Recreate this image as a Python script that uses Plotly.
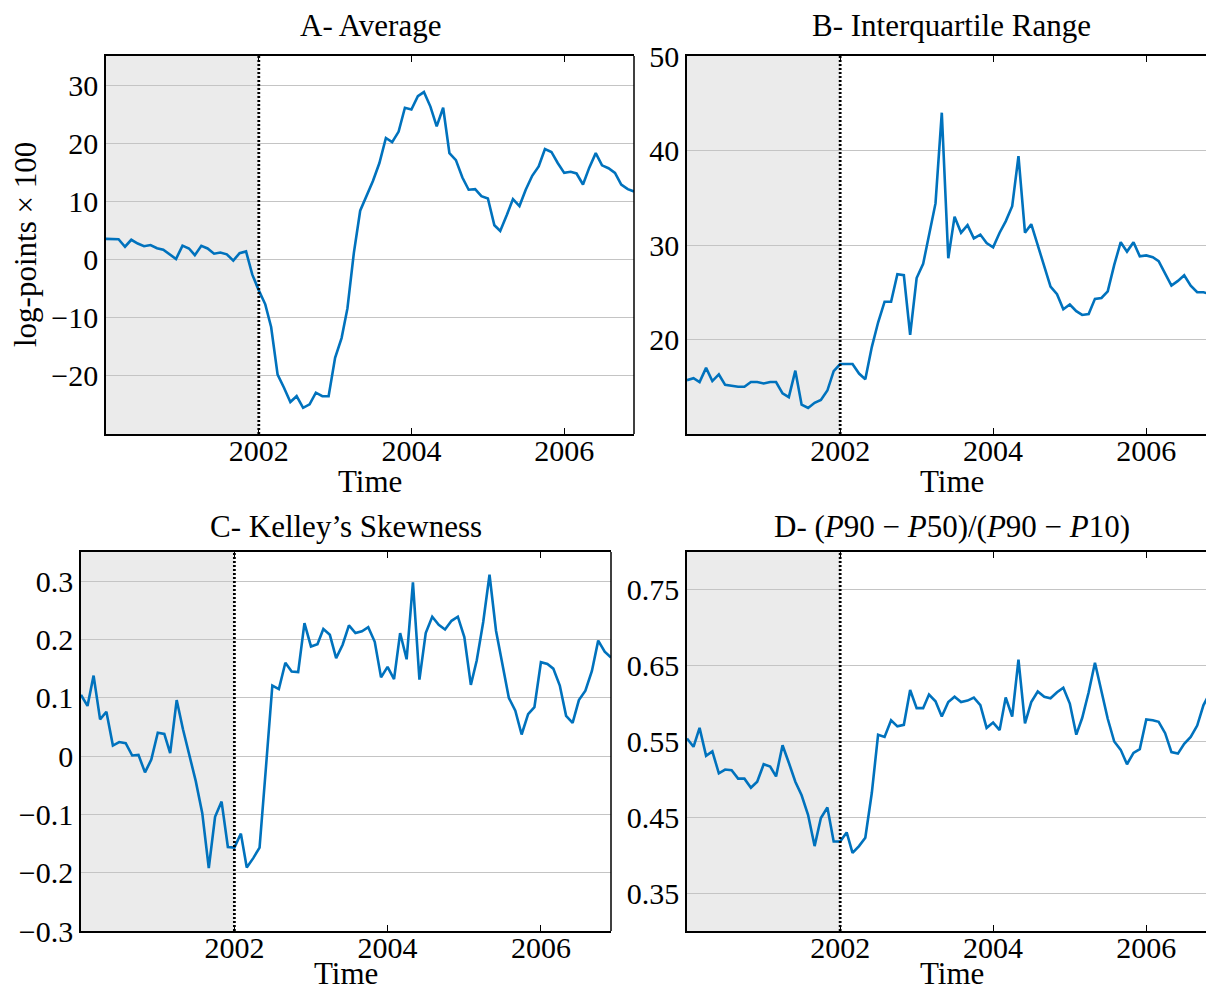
import pandas as pd
import plotly.graph_objects as go

W, H = 1206, 993

# Monthly observations, Jan 2000 - Dec 2006
months = pd.date_range("2000-01-01", periods=84, freq="MS")

# A- Average (log-points x 100)
average = [
    3.55, 3.5, 3.5, 2.2, 3.4, 2.75, 2.3, 2.5, 1.95, 1.7,
    0.86, 0.1, 2.4, 1.9, 0.75, 2.35, 1.9, 1.0, 1.2, 0.9,
    -0.2, 1.1, 1.4, -2.6, -5.3, -7.7, -11.6, -19.8, -22.0, -24.5,
    -23.5, -25.5, -24.9, -22.9, -23.5, -23.5, -16.9, -13.5, -8.4, 1.2,
    8.4, 10.9, 13.5, 16.6, 20.9, 20.2, 22.0, 26.1, 25.8, 28.1,
    28.8, 26.3, 22.9, 26.1, 18.3, 17.1, 14.1, 12.0, 12.1, 10.9,
    10.5, 5.9, 4.9, 7.6, 10.4, 9.2, 12.0, 14.4, 16.0, 19.0,
    18.5, 16.6, 14.9, 15.1, 14.8, 12.9, 15.8, 18.3, 16.2, 15.7,
    14.9, 12.9, 12.1, 11.7,
]

# B- Interquartile range
iqr = [
    15.7, 15.9, 15.5, 17.0, 15.6, 16.3, 15.2, 15.1, 15.0, 15.0,
    15.5, 15.5, 15.35, 15.5, 15.5, 14.3, 13.9, 16.7, 13.1, 12.75,
    13.3, 13.6, 14.6, 16.65, 17.4, 17.4, 17.4, 16.4, 15.8, 19.2,
    21.8, 24.0, 24.0, 26.9, 26.8, 20.5, 26.5, 28.0, 31.1, 34.4,
    44.0, 28.6, 33.0, 31.3, 32.1, 30.7, 31.1, 30.2, 29.75, 31.3,
    32.5, 34.1, 39.4, 31.3, 32.2, 29.9, 27.7, 25.6, 24.8, 23.2,
    23.7, 23.0, 22.6, 22.7, 24.3, 24.4, 25.1, 27.9, 30.3, 29.3,
    30.3, 28.8, 28.9, 28.7, 28.3, 27.0, 25.7, 26.2, 26.8, 25.7,
    25.0, 25.0, 24.8, 24.6,
]

# C- Kelley's skewness
kelley = [
    0.105, 0.086, 0.138, 0.063, 0.076, 0.018, 0.024, 0.022, 0.001, 0.002,
    -0.028, -0.006, 0.040, 0.038, 0.005, 0.096, 0.046, 0.0, -0.043, -0.098,
    -0.192, -0.104, -0.078, -0.156, -0.157, -0.133, -0.191, -0.175, -0.157, -0.017,
    0.121, 0.115, 0.160, 0.145, 0.144, 0.228, 0.188, 0.192, 0.218, 0.208,
    0.168, 0.191, 0.224, 0.211, 0.214, 0.221, 0.196, 0.135, 0.153, 0.132,
    0.211, 0.166, 0.298, 0.131, 0.211, 0.239, 0.225, 0.217, 0.232, 0.239,
    0.204, 0.122, 0.164, 0.230, 0.311, 0.215, 0.161, 0.100, 0.078, 0.037,
    0.072, 0.084, 0.161, 0.158, 0.150, 0.121, 0.069, 0.057, 0.096, 0.112,
    0.146, 0.198, 0.179, 0.169,
]

# D- (P90 - P50) / (P90 - P10)
upper_share = [
    0.554, 0.543, 0.568, 0.531, 0.537, 0.508, 0.513, 0.512, 0.501, 0.501,
    0.489, 0.497, 0.520, 0.517, 0.504, 0.545, 0.522, 0.497, 0.479, 0.453,
    0.412, 0.449, 0.463, 0.418, 0.418, 0.430, 0.403, 0.412, 0.423, 0.482,
    0.559, 0.556, 0.578, 0.570, 0.572, 0.618, 0.594, 0.594, 0.612, 0.603,
    0.583, 0.602, 0.609, 0.602, 0.604, 0.608, 0.598, 0.568, 0.575, 0.565,
    0.608, 0.583, 0.658, 0.574, 0.602, 0.616, 0.609, 0.607, 0.615, 0.621,
    0.600, 0.559, 0.581, 0.615, 0.654, 0.617, 0.580, 0.550, 0.539, 0.520,
    0.535, 0.540, 0.579, 0.578, 0.576, 0.561, 0.536, 0.534, 0.547, 0.556,
    0.571, 0.598, 0.615, 0.630,
]

year_ticks = ["2002-01-01", "2004-01-01", "2006-01-01"]
year_labels = ["2002", "2004", "2006"]

FONT = "Liberation Serif"
BLUE = "#0072BD"
TICK_SIZE = 30
TITLE_SIZE = 31

panels = [
    dict(title="A- Average", data=average, box=(106, 634, 56, 434),
         yrange=[-30, 35], yticks=[-20, -10, 0, 10, 20, 30],
         ylabels=["\u221220", "\u221210", "0", "10", "20", "30"],
         xend="2006-12-01", full_right=634, closed=True, title_y=26),
    dict(title="B- Interquartile Range", data=iqr, box=(687, 1206, 56, 434),
         yrange=[10, 50], yticks=[20, 30, 40, 50],
         ylabels=["20", "30", "40", "50"],
         xend="2006-10-13", full_right=1216, closed=False, title_y=26),
    dict(title="C- Kelley\u2019s Skewness", data=kelley, box=(81, 611, 552, 931),
         yrange=[-0.3, 0.35], yticks=[-0.3, -0.2, -0.1, 0, 0.1, 0.2, 0.3],
         ylabels=["\u22120.3", "\u22120.2", "\u22120.1", "0", "0.1", "0.2", "0.3"],
         xend="2006-12-01", full_right=611, closed=True, title_y=526),
    dict(title="D- (<i>P</i>90 \u2212 <i>P</i>50)/(<i>P</i>90 \u2212 <i>P</i>10)",
         data=upper_share, box=(687, 1206, 552, 931),
         yrange=[0.3, 0.8], yticks=[0.35, 0.45, 0.55, 0.65, 0.75],
         ylabels=["0.35", "0.45", "0.55", "0.65", "0.75"],
         xend="2006-10-13", full_right=1216, closed=False, title_y=526),
]

fig = go.Figure()
layout = {}
shapes = []
annotations = []

for k, p in enumerate(panels, start=1):
    left, right, top, bottom = p["box"]
    xs = "" if k == 1 else str(k)
    xname, yname = f"x{xs}", f"y{xs}"

    fig.add_trace(go.Scatter(
        x=months, y=p["data"], mode="lines",
        line=dict(color=BLUE, width=2.6),
        xaxis=xname, yaxis=yname, showlegend=False,
    ))

    layout[f"xaxis{xs}"] = dict(
        domain=[left / W, right / W], range=["2000-01-01", p["xend"]],
        type="date", anchor=yname, automargin=False,
        tickmode="array", tickvals=year_ticks, ticktext=year_labels,
        ticks="inside", ticklen=6, tickwidth=1, tickcolor="black",
        ticklabelstandoff=-11,
        showline=True, linecolor="black", linewidth=1.5, mirror="ticks",
        showgrid=False, zeroline=False,
        tickfont=dict(family=FONT, size=TICK_SIZE, color="black"),
    )
    layout[f"yaxis{xs}"] = dict(
        domain=[1 - bottom / H, 1 - top / H], range=p["yrange"], anchor=xname,
        automargin=False,
        tickmode="array", tickvals=p["yticks"], ticktext=p["ylabels"],
        ticks="", showline=True, linecolor="black", linewidth=1.5, mirror=False,
        showgrid=True, gridcolor="#c4c4c4", gridwidth=1, zeroline=False,
        tickfont=dict(family=FONT, size=TICK_SIZE, color="black"),
    )

    # shaded pre-2002 period
    shapes.append(dict(
        type="rect", xref=xname, yref=f"{yname} domain",
        x0="2000-01-01", x1="2002-01-01", y0=0, y1=1,
        fillcolor="#ebebeb", line=dict(width=0), layer="below",
    ))
    # dotted marker at 2002
    shapes.append(dict(
        type="line", xref=xname, yref=f"{yname} domain",
        x0="2002-01-01", x1="2002-01-01", y0=0, y1=1,
        line=dict(color="black", width=2.8, dash="2px,2px"), layer="above",
    ))
    # right-hand border of the frame
    if p["closed"]:
        shapes.append(dict(
            type="line", xref=f"{xname} domain", yref=f"{yname} domain",
            x0=1, x1=1, y0=0, y1=1,
            line=dict(color="black", width=1.5), layer="above",
        ))

    center = (left + p["full_right"]) / 2
    annotations.append(dict(
        text=p["title"], xref="paper", yref="paper",
        x=center / W, y=1 - p["title_y"] / H, xanchor="center", yanchor="middle",
        showarrow=False, font=dict(family=FONT, size=TITLE_SIZE, color="black"),
    ))
    # "Time" axis title: the lower row sits flush with the page bottom
    if k <= 2:
        time_pos = dict(y=1 - (bottom + 47) / H, yanchor="middle")
    else:
        time_pos = dict(y=0, yanchor="bottom")
    annotations.append(dict(
        text="Time", xref="paper", yref="paper",
        x=center / W, xanchor="center", **time_pos,
        showarrow=False, font=dict(family=FONT, size=TITLE_SIZE, color="black"),
    ))

annotations.append(dict(
    text="log-points \u00d7 100", xref="paper", yref="paper",
    x=25 / W, y=1 - 245 / H, xanchor="center", yanchor="middle", textangle=-90,
    showarrow=False, font=dict(family=FONT, size=TITLE_SIZE, color="black"),
))

fig.update_layout(
    width=W, height=H,
    margin=dict(l=0, r=0, t=0, b=0, autoexpand=False),
    paper_bgcolor="white", plot_bgcolor="white",
    shapes=shapes, annotations=annotations,
    **layout,
)

fig.write_html("out.html")
